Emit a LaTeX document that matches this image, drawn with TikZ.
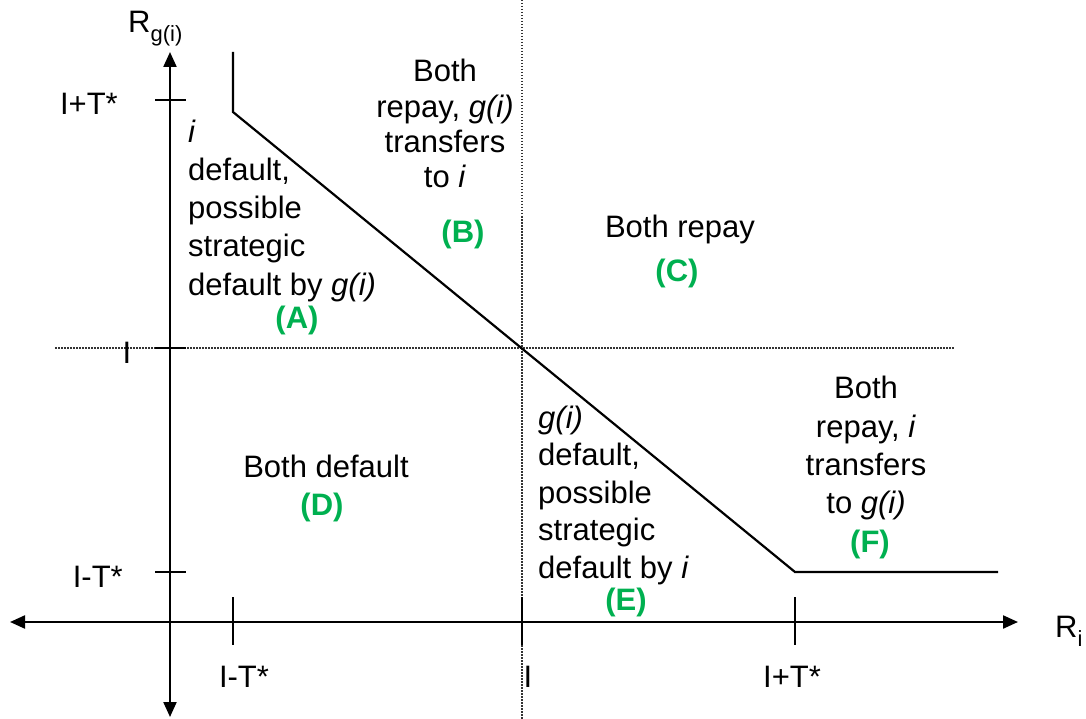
\documentclass[tikz,border=0pt]{standalone}
\usepackage{fontspec}
\setmainfont{Liberation Sans}
\usetikzlibrary{arrows.meta}
\definecolor{lbl}{RGB}{0,176,80}
\begin{document}
\begin{tikzpicture}[x=1pt,y=-1pt,
  txt/.style={inner sep=0pt,font=\fontsize{31}{36}\selectfont},
  txtw/.style={txt,anchor=base west},
  txtc/.style={txt,anchor=base},
  grn/.style={inner sep=0pt,anchor=base,text=lbl,font=\fontsize{31}{36}\selectfont\bfseries},
  axis/.style={line width=2.2pt,{Triangle[length=15pt,width=13pt]}-{Triangle[length=15pt,width=13pt]}},
  tickmark/.style={line width=2pt},
  curve/.style={line width=2.2pt,line join=miter},
  dots/.style={line width=1.6pt,dash pattern=on 1.5pt off 1.5pt,black!80}]
\useasboundingbox (0,0) rectangle (1086,719);

% dotted guides
\coordinate (vt) at (522,0);
\coordinate (vb) at (522,719);
\coordinate (hl) at (55,348);
\coordinate (hr) at (955,348);
\draw[dots] (vt) -- (vb);
\draw[dots] (hl) -- (hr);

% axes
\coordinate (yt) at (170,52);
\coordinate (yb) at (170,717);
\coordinate (xl) at (10,622);
\coordinate (xr) at (1018,622);
\draw[axis] (yb) -- (yt);
\draw[axis] (xl) -- (xr);

% ticks
\coordinate (ty1a) at (155,100); \coordinate (ty1b) at (186,100);
\coordinate (ty2a) at (155,348); \coordinate (ty2b) at (186,348);
\coordinate (ty3a) at (155,572); \coordinate (ty3b) at (186,572);
\coordinate (tx1a) at (233,597); \coordinate (tx1b) at (233,645);
\coordinate (tx2a) at (522,597); \coordinate (tx2b) at (522,645);
\coordinate (tx3a) at (795,597); \coordinate (tx3b) at (795,645);
\draw[tickmark] (ty1a) -- (ty1b);
\draw[tickmark] (ty2a) -- (ty2b);
\draw[tickmark] (ty3a) -- (ty3b);
\draw[tickmark] (tx1a) -- (tx1b);
\draw[tickmark] (tx2a) -- (tx2b);
\draw[tickmark] (tx3a) -- (tx3b);

% boundary curve
\coordinate (c0) at (233,52);
\coordinate (c1) at (233,112);
\coordinate (c2) at (795,572);
\coordinate (c3) at (998,572);
\draw[curve] (c0) -- (c1) -- (c2) -- (c3);

% axis labels
\node[txtw] (ry) at (128,33) {R\raisebox{-9pt}{\fontsize{22}{22}\selectfont g(i)}};
\node[txtw] (rx) at (1055,637) {R\raisebox{-9pt}{\fontsize{22}{22}\selectfont i}};

% tick labels
\node[txt,anchor=base east] (ly1) at (118,115) {I+T*};
\node[txtc] (ly2) at (127,363) {I};
\node[txt,anchor=base east] (ly3) at (123,587) {I-T*};
\node[txtc] (lx1) at (244,687) {I-T*};
\node[txtc] (lx2) at (528,687) {I};
\node[txtc] (lx3) at (792,687) {I+T*};

% region A
\node[txtw] (a1) at (188,143) {\textit{i}};
\node[txtw] (a2) at (188,181) {default,};
\node[txtw] (a3) at (188,219) {possible};
\node[txtw] (a4) at (188,257) {strategic};
\node[txtw] (a5) at (188,295) {default by \textit{g(i)}};
\node[grn] (A) at (297,328) {(A)};

% region B
\node[txtc] (b1) at (445,82) {Both};
\node[txtc] (b2) at (445,118) {repay, \textit{g(i)}};
\node[txtc] (b3) at (445,153) {transfers};
\node[txtc] (b4) at (445,188) {to \textit{i}};
\node[grn] (B) at (463,243) {(B)};

% region C
\node[txtc] (c1t) at (680,237) {Both repay};
\node[grn] (C) at (677,281) {(C)};

% region D
\node[txtc] (d1) at (326,477) {Both default};
\node[grn] (D) at (322,515) {(D)};

% region E
\node[txtw] (e1) at (538,428) {\textit{g(i)}};
\node[txtw] (e2) at (538,465.5) {default,};
\node[txtw] (e3) at (538,503) {possible};
\node[txtw] (e4) at (538,540.5) {strategic};
\node[txtw] (e5) at (538,578) {default by \textit{i}};
\node[grn] (E) at (626,610) {(E)};

% region F
\node[txtc] (f1) at (866,398) {Both};
\node[txtc] (f2) at (866,437) {repay, \textit{i}};
\node[txtc] (f3) at (866,475) {transfers};
\node[txtc] (f4) at (866,513) {to \textit{g(i)}};
\node[grn] (F) at (870,552) {(F)};
\end{tikzpicture}
\end{document}
